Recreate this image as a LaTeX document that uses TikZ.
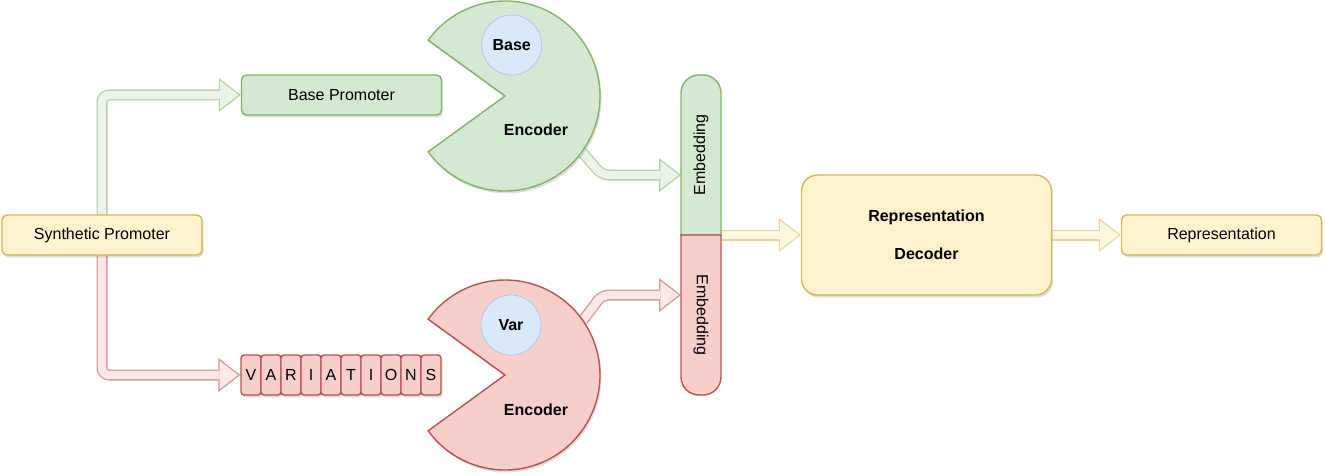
\documentclass[tikz,border=0pt]{standalone}
\usepackage{fontspec}
\setmainfont{Liberation Sans}
\usepackage{tikz}
\usetikzlibrary{arrows.meta,positioning,calc,shadows,backgrounds}
\definecolor{GreenFill}{HTML}{D5E8D4}
\definecolor{GreenLine}{HTML}{82B366}
\definecolor{RedFill}{HTML}{F8CECC}
\definecolor{RedLine}{HTML}{B85450}
\definecolor{YellowFill}{HTML}{FFF2CC}
\definecolor{YellowLine}{HTML}{D6B656}
\definecolor{BlueFill}{HTML}{DAE8FC}
\definecolor{BlueLine}{HTML}{A9C4EB}
\tikzset{
  shade/.style={drop shadow={shadow xshift=1.5pt,shadow yshift=-2.5pt,opacity=0.25}},
  box/.style={draw,line width=1.4pt,rounded corners=5pt,minimum width=200pt,minimum height=40pt,inner sep=0pt,font=\fontsize{16}{19}\selectfont,shade},
  cell/.style={draw=RedLine,fill=RedFill,line width=1.4pt,rounded corners=3pt,minimum width=20pt,minimum height=40pt,inner sep=0pt,font=\fontsize{16}{19}\selectfont,shade},
  blob/.style={circle,draw=BlueLine,fill=BlueFill,line width=0.7pt,minimum size=60pt,inner sep=0pt,font=\fontsize{16}{19}\selectfont\bfseries},
  lbl/.style={font=\fontsize{16}{19}\selectfont\bfseries},
  emb/.style={font=\fontsize{16}{19}\selectfont},
  flexout/.style={line width=11pt,line join=round,rounded corners=7pt,-{Triangle[length=22pt,width=34pt,line width=0pt 0 0]}},
  flexin/.style={line width=8.4pt,line join=round,rounded corners=7pt,shorten >=2.2pt,-{Triangle[length=18.5pt,width=28.5pt,line width=0pt 0 0]}}
}
\newcommand\flexarrow[3]{%
  \draw[flexout,#1] #3;
  \draw[flexin,#2] #3;}

\begin{document}
\begin{tikzpicture}[x=1pt,y=1pt]
\useasboundingbox (0,0) rectangle (1325,475);
\node[box,draw=YellowLine,fill=YellowFill] (synth) at (102,240) {Synthetic Promoter};
\node[box,draw=GreenLine,fill=GreenFill] (basep) at (341.5,380) {Base Promoter};
\foreach \l [count=\i] in {V,A,R,I,A,T,I,O,N,S}{
  \node[cell] (v\i) at (231+\i*20,100) {\l};
}
\coordinate (encB) at (505,379);
\coordinate (encV) at (505,100);
\draw[fill=GreenFill,draw=GreenLine,line width=1.4pt,shade] (encB) -- ++(144:95) arc[start angle=144,end angle=-144,radius=95] -- cycle;
\draw[fill=RedFill,draw=RedLine,line width=1.4pt,shade] (encV) -- ++(144:95) arc[start angle=144,end angle=-144,radius=95] -- cycle;
\node[blob] (base) at (511.7,430) {Base};
\node[blob] (var) at (511,150) {Var};
\node[lbl] (encBtxt) at (536,345) {Encoder};
\node[lbl] (encVtxt) at (536,65) {Encoder};
\coordinate (encBout) at ($(encB)+(-36:95)$);
\coordinate (encVout) at ($(encV)+(35:95)$);
\draw[fill=GreenFill,draw=GreenLine,line width=1.4pt] (721,240) -- (681,240) [rounded corners=18pt] -- (681,400) -- (721,400) [sharp corners] -- cycle;
\draw[fill=RedFill,draw=RedLine,line width=1.4pt] (721,240) -- (681,240) [rounded corners=18pt] -- (681,80) -- (721,80) [sharp corners] -- cycle;
\node[emb,rotate=90] (embBtxt) at (701,320) {Embedding};
\node[emb,rotate=-90] (embVtxt) at (701,160) {Embedding};
\coordinate (embBin) at (681,300);
\coordinate (embVin) at (681,180);
\coordinate (embOut) at (721,240);
\node[box,draw=YellowLine,fill=YellowFill,minimum width=250pt,minimum height=120pt,rounded corners=16pt,align=center,font=\fontsize{16}{19}\selectfont\bfseries] (dec) at (926.5,240) {Representation\\[19pt]Decoder};
\node[box,draw=YellowLine,fill=YellowFill] (rep) at (1221.5,240) {Representation};
\begin{scope}[on background layer]
\flexarrow{GreenLine!60}{GreenFill!50}{(synth.north) |- (basep.west)}
\flexarrow{RedLine!60}{RedFill!50}{(synth.south) |- (v1.west)}
\flexarrow{GreenLine!60}{GreenFill!50}{(encBout) -- ($(embBin)+(-79,0)$) -- (embBin)}
\flexarrow{RedLine!60}{RedFill!50}{(encVout) -- ($(embVin)+(-79,0)$) -- (embVin)}
\flexarrow{YellowLine!55}{YellowFill!60}{(embOut) -- (dec.west)}
\flexarrow{YellowLine!55}{YellowFill!60}{(dec.east) -- (rep.west)}
\end{scope}
\end{tikzpicture}
\end{document}
